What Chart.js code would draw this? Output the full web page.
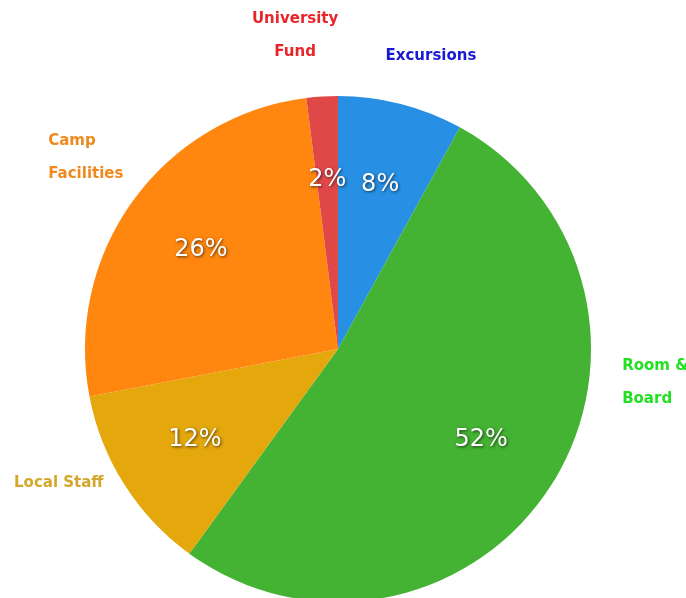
<!DOCTYPE html>
<html>
<head>
<meta charset="utf-8">
<script src="https://cdn.jsdelivr.net/npm/chart.js@4.4.0/dist/chart.umd.min.js"></script>
<style>
  html, body { margin: 0; padding: 0; background: #fff; overflow: hidden; }
  #wrap { width: 686px; height: 610px; position: relative; }
</style>
</head>
<body>
<div id="wrap"><canvas id="myChart"></canvas></div>
<script>
// data, clockwise from the top
const categories = ['Excursions', 'Room & Board', 'Local Staff', 'Camp Facilities', 'University Fund'];
const labelLines = [['Excursions'], ['Room &', 'Board'], ['Local Staff'], ['Camp', 'Facilities'], ['University', 'Fund']];
const shares = [8, 52, 12, 26, 2];

// slice colours: [centre, edge]
const sliceColors = [
  ['#2790e4', '#1672c4'],
  ['#44b232', '#2c921c'],
  ['#e4a70c', '#cc8a00'],
  ['#ff8710', '#ec6400'],
  ['#e04848', '#cc3030']
];
const textColors = ['#1a1ad2', '#22e022', '#d4a72c', '#f0891e', '#e8262a'];

// where each outer label sits: angle shift (deg), distance (x radius), alignment
const outerPos = [
  { shift: 3.2, k: 1.215, align: 'center' },
  { shift: -25.6, k: 1.131, align: 'left' },
  { shift: 9.9, k: 1.386, align: 'left' },
  { shift: -2.6, k: 1.372, align: 'left' },
  { shift: -4.2, k: 1.249, align: 'center' }
];

const labelPlugin = {
  id: 'sliceLabels',
  afterDatasetsDraw(chart) {
    const ctx = chart.ctx;
    const arcs = chart.getDatasetMeta(0).data;
    arcs.forEach((arc, i) => {
      const { x, y, startAngle, endAngle, outerRadius } = arc.getProps(['x', 'y', 'startAngle', 'endAngle', 'outerRadius'], true);
      const mid = (startAngle + endAngle) / 2;

      // percentage inside the slice
      ctx.save();
      ctx.font = '24px "DejaVu Sans"';
      ctx.fillStyle = '#ffffff';
      ctx.textAlign = 'center';
      ctx.textBaseline = 'middle';
      ctx.shadowColor = 'rgba(0,0,0,0.65)';
      ctx.shadowBlur = 3;
      ctx.shadowOffsetX = 1;
      ctx.shadowOffsetY = 1;
      const r = outerRadius * 0.67;
      ctx.fillText(shares[i] + '%', x + Math.cos(mid) * r, y + Math.sin(mid) * r);
      ctx.restore();

      // category name outside
      const p = outerPos[i];
      const a = mid + p.shift * Math.PI / 180;
      const ax = x + Math.cos(a) * outerRadius * p.k;
      const ay = y + Math.sin(a) * outerRadius * p.k;
      const lines = labelLines[i];
      const lh = 33;
      ctx.save();
      ctx.font = 'bold 15px "DejaVu Sans"';
      ctx.fillStyle = textColors[i];
      ctx.textAlign = p.align;
      ctx.textBaseline = 'middle';
      lines.forEach((t, j) => {
        ctx.fillText(t, ax, ay + (j - (lines.length - 1) / 2) * lh);
      });
      ctx.restore();
    });
  }
};

function sliceFill(c) {
  const chart = c.chart;
  const arc = chart.getDatasetMeta(0).data[c.dataIndex];
  if (!arc || !arc.outerRadius) return sliceColors[c.dataIndex][0];
  const g = chart.ctx.createRadialGradient(arc.x - 25, arc.y - 35, 0, arc.x, arc.y, arc.outerRadius);
  g.addColorStop(0, sliceColors[c.dataIndex][0]);
  g.addColorStop(0.7, sliceColors[c.dataIndex][0]);
  g.addColorStop(1, sliceColors[c.dataIndex][1]);
  return g;
}

const ctx = document.getElementById('myChart');
new Chart(ctx, {
  type: 'pie',
  data: {
    labels: categories,
    datasets: [{
      data: shares,
      backgroundColor: sliceFill,
      borderWidth: 0
    }]
  },
  options: {
    responsive: true,
    maintainAspectRatio: false,
    animation: false,
    layout: { padding: { left: 85, right: 95, top: 96, bottom: 8 } },
    plugins: {
      legend: { display: false },
      tooltip: { enabled: false }
    }
  },
  plugins: [labelPlugin]
});
</script>
</body>
</html>
